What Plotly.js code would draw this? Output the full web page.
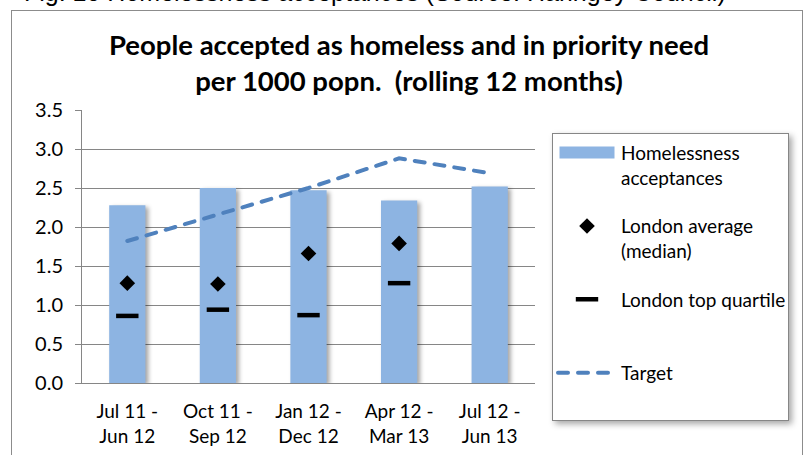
<!DOCTYPE html>
<html>
<head>
<meta charset="utf-8">
<script src="https://cdn.plot.ly/plotly-3.0.1.min.js"></script>
<style>
  html, body { margin: 0; padding: 0; background: #fff; overflow: hidden; }
  #wrap { position: relative; width: 805px; height: 455px; }
  #chart { position: absolute; left: 0; top: 0; width: 805px; height: 455px; }
  #frame { position: absolute; left: 11px; top: 10px; width: 792px; height: 470px;
           border: 1px solid #8c8c8c; pointer-events: none; box-sizing: border-box; }
  .barlayer .point path { filter: drop-shadow(3px 2px 2px rgba(0,0,0,0.35)); }
  .legend .bg { filter: drop-shadow(3px 3px 3px rgba(0,0,0,0.35)); }
  .scatterlayer .js-line { stroke-linecap: round; }
  .legend .legendlines path { stroke-linecap: round; }
</style>
</head>
<body>
<div id="wrap">
  <div id="chart"></div>
  <div id="frame"></div>
</div>
<script>
// ---- data ----
var categories = ["Jul 11 -<br>Jun 12", "Oct 11 -<br>Sep 12", "Jan 12 -<br>Dec 12", "Apr 12 -<br>Mar 13", "Jul 12 -<br>Jun 13"];
var acceptances = [2.28, 2.50, 2.47, 2.34, 2.52];
var londonMedian = [1.28, 1.27, 1.66, 1.79, null];
var londonTopQuartile = [0.86, 0.94, 0.87, 1.28, null];
var target = [1.82, 2.16, 2.50, 2.88, 2.69];
var seriesNames = ["Homelessness<br>acceptances", "London average<br>(median)", "London top quartile<br>&nbsp;", "Target<br>&nbsp;"];
var chartTitle = "<b>People accepted as homeless and in priority need<br>per 1000 popn.  (rolling 12 months)</b>";
var caption = "Fig. 10 Homelessness acceptances (Source: Haringey Council)";

// category boundaries for separator ticks (derived from categories)
var boundaries = categories.map(function (c, i) { return i - 0.5; });
boundaries.push(categories.length - 0.5);

var font = "Lato, 'Open Sans', sans-serif";
var grey = "#868686";

var traces = [
  {
    type: "bar", x: categories, y: acceptances, name: seriesNames[0],
    marker: { color: "#8DB4E2" }, legendgroup: "a",
    hoverinfo: "skip"
  },
  {
    type: "scatter", mode: "markers", x: categories, y: londonMedian, name: seriesNames[1],
    marker: { symbol: "diamond", size: 12, color: "#000" }, legendgroup: "b",
    hoverinfo: "skip"
  },
  {
    type: "scatter", mode: "markers", x: categories, y: londonTopQuartile, name: seriesNames[2],
    marker: { symbol: "line-ew", size: 16, color: "#000", line: { color: "#000", width: 4.5 } },
    legendgroup: "c", hoverinfo: "skip"
  },
  {
    type: "scatter", mode: "lines", x: categories, y: target, name: seriesNames[3],
    line: { color: "#4F81BD", width: 4, dash: "10px,10px" }, legendgroup: "d",
    hoverinfo: "skip"
  }
];

var layout = {
  width: 805, height: 455,
  margin: { l: 82, r: 270, t: 110, b: 72 },
  paper_bgcolor: "#fff", plot_bgcolor: "#fff",
  font: { family: font, size: 20, color: "#000" },
  title: {
    text: chartTitle,
    font: { family: font, size: 27.5, color: "#000" },
    x: 409 / 805, xanchor: "center", xref: "container",
    y: 1 - 55 / 455, yanchor: "top", yref: "container"
  },
  bargap: 0.6,
  showlegend: true,
  legend: {
    x: (552 - 82) / 453, xanchor: "left",
    y: (383.3 - 133) / 273, yanchor: "top",
    bgcolor: "#fff", bordercolor: grey, borderwidth: 1,
    font: { family: font, size: 19, color: "#000" },
    tracegroupgap: 21, valign: "top", itemwidth: 58,
    traceorder: "grouped"
  },
  xaxis: {
    type: "category", showline: true, linecolor: grey, linewidth: 1,
    ticks: "", showgrid: false, zeroline: false,
    tickfont: { family: font, size: 19, color: "#000" },
    ticklabelstandoff: 11, fixedrange: true
  },
  xaxis2: {
    overlaying: "x", anchor: "y", side: "bottom",
    range: [-0.5, categories.length - 0.5],
    tickmode: "array", tickvals: boundaries,
    ticks: "outside", ticklen: 75, tickcolor: grey, tickwidth: 1,
    showticklabels: false, showgrid: false, zeroline: false, showline: false
  },
  yaxis: {
    range: [0, 3.5], dtick: 0.5, tickformat: ".1f",
    ticks: "outside", ticklen: 6, tickcolor: grey, tickwidth: 1,
    showgrid: true, gridcolor: grey, gridwidth: 1,
    showline: true, linecolor: grey, linewidth: 1, zeroline: false,
    tickfont: { family: font, size: 20, color: "#000" },
    ticklabelstandoff: 8, fixedrange: true
  },
  annotations: [
    {
      text: caption, showarrow: false,
      xref: "paper", yref: "paper",
      x: (22 - 82) / 453, xanchor: "left",
      y: (383.3 - 8) / 273, yanchor: "bottom",
      font: { family: "'Liberation Sans', Arial, sans-serif", size: 25, color: "#000" }
    }
  ]
};

Plotly.newPlot("chart", traces, layout, { displayModeBar: false, staticPlot: true }).then(function () {
  // widen the bar legend swatch to match the reference's wide swatch
  document.querySelectorAll(".legend .legendpoints path").forEach(function (p) {
    if ((p.getAttribute("d") || "").indexOf("M6,6H-6V-6H6Z") === 0) {
      p.setAttribute("d", "M27.5,6H-27.5V-6H27.5Z");
    }
  });
  // legend frame: a little taller and narrower, like the reference's box
  var bg = document.querySelector(".legend rect.bg");
  if (bg) {
    var w = parseFloat(bg.getAttribute("width"));
    var h = parseFloat(bg.getAttribute("height"));
    bg.setAttribute("width", w - 3);
    bg.setAttribute("height", h + 15);
  }
});
</script>
</body>
</html>
